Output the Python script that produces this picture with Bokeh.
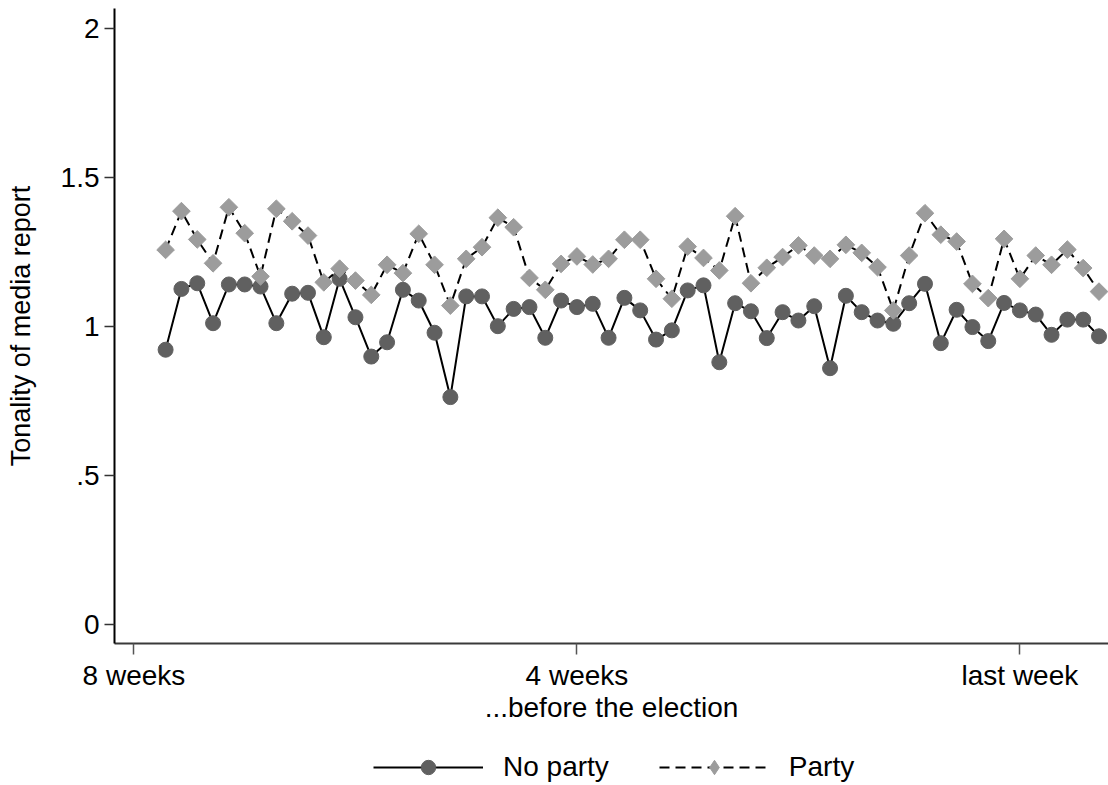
import math
from bokeh.plotting import figure
from bokeh.models import FixedTicker, Legend, LegendItem
from bokeh.layouts import column
from bokeh.embed import file_html
from bokeh.resources import INLINE

# day index (ticks: 0 = 8 weeks, 28 = 4 weeks, 56 = last week)
days = list(range(2, 62))

no_party = [0.922, 1.126, 1.145, 1.011, 1.141, 1.141, 1.134, 1.011, 1.110, 1.113,
            0.964, 1.160, 1.031, 0.899, 0.947, 1.123, 1.087, 0.979, 0.763, 1.101,
            1.101, 1.001, 1.059, 1.065, 0.962, 1.087, 1.065, 1.076, 0.962, 1.096,
            1.054, 0.956, 0.987, 1.121, 1.138, 0.880, 1.078, 1.051, 0.961, 1.048,
            1.020, 1.068, 0.860, 1.103, 1.048, 1.020, 1.009, 1.078, 1.143, 0.944,
            1.056, 0.998, 0.951, 1.079, 1.054, 1.040, 0.972, 1.023, 1.023, 0.967]

party = [1.257, 1.387, 1.292, 1.212, 1.400, 1.313, 1.168, 1.395, 1.353, 1.305,
         1.148, 1.194, 1.154, 1.106, 1.207, 1.179, 1.311, 1.207, 1.070, 1.227,
         1.266, 1.365, 1.333, 1.163, 1.123, 1.210, 1.235, 1.208, 1.227, 1.291,
         1.291, 1.160, 1.093, 1.268, 1.230, 1.188, 1.370, 1.145, 1.197, 1.233,
         1.272, 1.238, 1.227, 1.274, 1.247, 1.199, 1.054, 1.238, 1.380, 1.308,
         1.285, 1.143, 1.095, 1.294, 1.160, 1.238, 1.207, 1.258, 1.196, 1.117]

series_names = ["No party", "Party"]
x_ticks = [0, 28, 56]
x_labels = ["8 weeks", "4 weeks", "last week"]
y_ticks = [0, 0.5, 1, 1.5, 2]
y_labels = ["0", ".5", "1", "1.5", "2"]

FONT = "Liberation Sans"
FS = "28px"
DARK = "#606060"
LIGHT = "#9c9c9c"
DASH = "10 6"

W = 1108
LEG_H = 38
MAIN_H = 785 - LEG_H

p = figure(width=W, height=MAIN_H, x_range=(-1.23, 61.6), y_range=(-0.0638, 2.067),
           output_backend="svg", toolbar_location=None,
           min_border_left=114, min_border_right=0, min_border_top=8,
           min_border_bottom=MAIN_H - 643)
p.outline_line_color = None
p.xgrid.visible = False
p.ygrid.visible = False

# axes
p.xaxis.ticker = FixedTicker(ticks=x_ticks)
p.xaxis.major_label_overrides = dict(zip(x_ticks, x_labels))
p.yaxis.ticker = FixedTicker(ticks=y_ticks)
p.yaxis.major_label_overrides = dict(zip(y_ticks, y_labels))
for ax in (p.xaxis, p.yaxis):
    ax.minor_tick_line_color = None
    ax.major_tick_in = 0
    ax.major_label_text_font = FONT
    ax.major_label_text_font_size = FS
    ax.major_label_text_color = "black"
    ax.axis_label_text_font = FONT
    ax.axis_label_text_font_size = FS
    ax.axis_label_text_font_style = "normal"
    ax.axis_label_text_color = "black"

p.xaxis.axis_label = "...before the election"
p.xaxis.major_tick_out = 11
p.xaxis.major_label_standoff = 5
p.xaxis.axis_label_standoff = -2
p.xaxis.axis_line_color = "#3a3a3a"
p.xaxis.axis_line_width = 2
p.xaxis.major_tick_line_color = "#555555"
p.xaxis.major_tick_line_width = 1.5

p.yaxis.axis_label = "Tonality of media report"
p.yaxis.axis_label_text_font_size = "27px"
p.yaxis.major_tick_out = 10
p.yaxis.major_label_standoff = 5
p.yaxis.axis_label_standoff = 22
p.yaxis.axis_line_color = "black"
p.yaxis.axis_line_width = 2
p.yaxis.major_tick_line_color = "#333333"
p.yaxis.major_tick_line_width = 1.5
p.yaxis.major_label_orientation = "horizontal"

# series
p.line(days, no_party, line_color="black", line_width=2)
p.scatter(days, no_party, marker="circle", size=15, fill_color=DARK, line_color=DARK)
p.line(days, party, line_color="black", line_width=2, line_dash=DASH)
p.scatter(days, party, marker="square", size=12.5, angle=math.pi / 4,
          fill_color=LIGHT, line_color=LIGHT)

# legend strip (separate figure below the plot; its renderers lie outside its ranges)
lg = figure(width=W, height=LEG_H, x_range=(-100, -99), y_range=(-100, -99),
            output_backend="svg", toolbar_location=None,
            min_border_left=0, min_border_right=0, min_border_top=0, min_border_bottom=0)
lg.axis.visible = False
lg.grid.visible = False
lg.outline_line_color = None
a1 = lg.line(days, no_party, line_color="black", line_width=2)
b1 = lg.scatter(days, no_party, marker="circle", fill_color=DARK, line_color=DARK)
a2 = lg.line(days, party, line_color="black", line_width=2, line_dash=DASH)
b2 = lg.scatter(days, party, marker="diamond", fill_color=LIGHT, line_color=LIGHT)

legend = Legend(items=[LegendItem(label=series_names[0], renderers=[a1, b1]),
                       LegendItem(label=series_names[1], renderers=[a2, b2])],
                orientation="horizontal", location=(259, 0),
                glyph_width=110, glyph_height=36, label_standoff=20, spacing=50,
                padding=0, margin=0, border_line_color=None, background_fill_alpha=0,
                label_text_font=FONT, label_text_font_size=FS, label_text_color="black")
lg.add_layout(legend, "center")

layout = column(p, lg, spacing=0)
open("out.html", "w").write(file_html(layout, INLINE))
